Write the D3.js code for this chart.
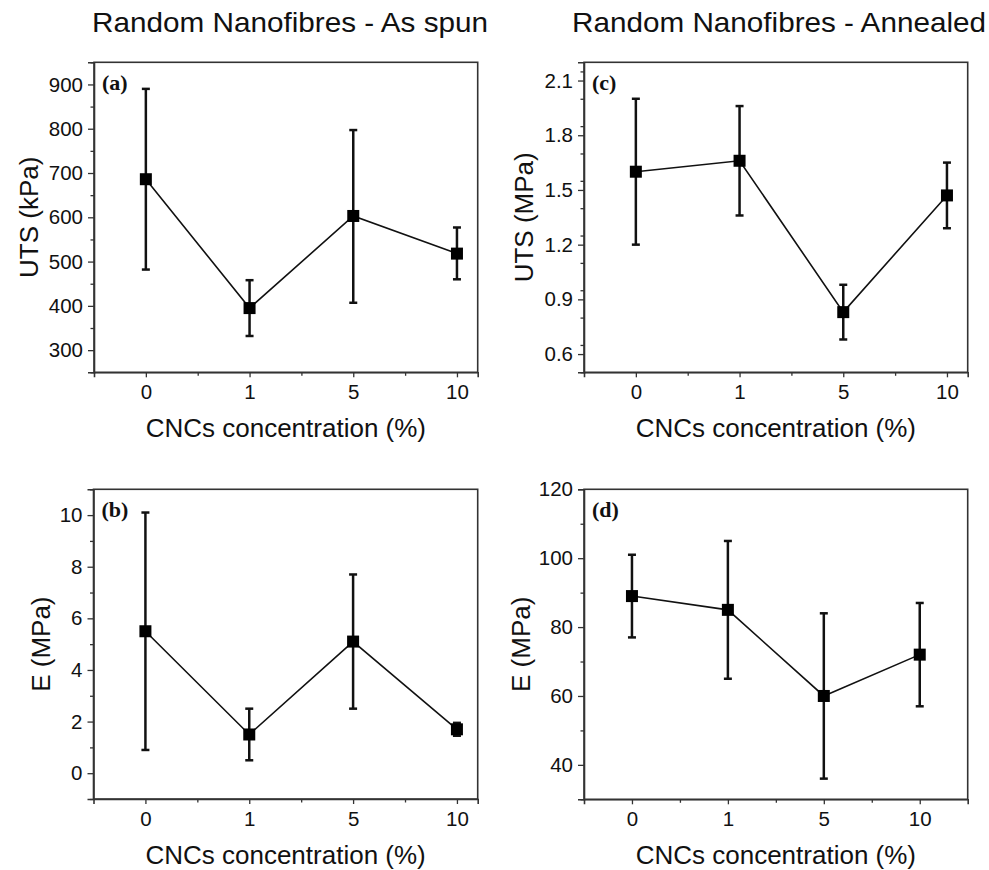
<!DOCTYPE html>
<html lang="en">
<head>
    <meta charset="UTF-8">
    <title>Random Nanofibres - UTS and E</title>
    <script src="https://cdnjs.cloudflare.com/ajax/libs/d3/7.8.5/d3.min.js"></script>
    <style>
        * { margin: 0; padding: 0; }
        body { background: #fff; font-family: "Liberation Sans", Arial, sans-serif; }
        svg text { fill: #111; }
    </style>
</head>
<body>
    <svg id="chart" width="989" height="870"></svg>

    <script>
        // categories on the x axis (CNCs concentration, %)
        const cats = ["0", "1", "5", "10"];

        // (a) as spun, UTS (kPa)
        const utsSpun = [686, 395, 603, 518];
        const utsSpunHi = [890, 458, 797, 577];
        const utsSpunLo = [482, 332, 407, 460];

        // (b) as spun, E (MPa)
        const eSpun = [5.5, 1.5, 5.1, 1.7];
        const eSpunHi = [10.1, 2.5, 7.7, 1.95];
        const eSpunLo = [0.9, 0.5, 2.5, 1.45];

        // (c) annealed, UTS (MPa)
        const utsAnn = [1.60, 1.66, 0.83, 1.47];
        const utsAnnHi = [2.00, 1.96, 0.98, 1.65];
        const utsAnnLo = [1.20, 1.36, 0.68, 1.29];

        // (d) annealed, E (MPa)
        const eAnn = [89, 85, 60, 72];
        const eAnnHi = [101, 105, 84, 87];
        const eAnnLo = [77, 65, 36, 57];

        // y tick labels
        const ticksA = [300, 400, 500, 600, 700, 800, 900];
        const ticksB = [0, 2, 4, 6, 8, 10];
        const ticksC = [0.6, 0.9, 1.2, 1.5, 1.8, 2.1];
        const ticksD = [40, 60, 80, 100, 120];

        const titles = ["Random Nanofibres - As spun", "Random Nanofibres - Annealed"];

        const svg = d3.select("#chart");

        const panels = [
            { tag: "(a)", ylab: "UTS (kPa)", mean: utsSpun, hi: utsSpunHi, lo: utsSpunLo,
              ticks: ticksA, step: 50, yDom: [250, 950], xDom: [-0.5, 3.2], fmt: d => d,
              left: 94, right: 477.7, top: 62.3, bottom: 372.3, ylabX: 38 },
            { tag: "(b)", ylab: "E (MPa)", mean: eSpun, hi: eSpunHi, lo: eSpunLo,
              ticks: ticksB, step: 1, yDom: [-1, 11], xDom: [-0.5, 3.2], fmt: d => d,
              left: 93.5, right: 477.7, top: 489.3, bottom: 799, ylabX: 50 },
            { tag: "(c)", ylab: "UTS (MPa)", mean: utsAnn, hi: utsAnnHi, lo: utsAnnLo,
              ticks: ticksC, step: 0.15, yDom: [0.5, 2.2], xDom: [-0.5, 3.2], fmt: d3.format(".1f"),
              left: 584, right: 967.7, top: 62.3, bottom: 372.3, ylabX: 533 },
            { tag: "(d)", ylab: "E (MPa)", mean: eAnn, hi: eAnnHi, lo: eAnnLo,
              ticks: ticksD, step: 10, yDom: [30, 120], xDom: [-0.5, 3.5], fmt: d => d,
              left: 584, right: 967.7, top: 489.3, bottom: 799.3, ylabX: 530 }
        ];

        panels.forEach(p => {
            const x = d3.scaleLinear().domain(p.xDom).range([p.left, p.right]);
            const y = d3.scaleLinear().domain(p.yDom).range([p.bottom, p.top]);
            const g = svg.append("g");

            // frame (top / right)
            g.append("rect")
                .attr("x", p.left).attr("y", p.top)
                .attr("width", p.right - p.left).attr("height", p.bottom - p.top)
                .attr("fill", "none").attr("stroke", "#333").attr("stroke-width", 1.6);

            // minor y ticks
            const minorY = d3.range(p.yDom[0], p.yDom[1] + 1e-9, p.step)
                .filter(v => !p.ticks.some(t => Math.abs(t - v) < 1e-6));
            g.append("g")
                .attr("transform", `translate(${p.left},0)`)
                .call(d3.axisLeft(y).tickValues(minorY).tickSize(3.5).tickFormat(""))
                .call(a => a.select(".domain").remove())
                .selectAll("line").attr("stroke", "#333").attr("stroke-width", 1.3);

            // major y ticks
            const ya = g.append("g")
                .attr("transform", `translate(${p.left},0)`)
                .call(d3.axisLeft(y).tickValues(p.ticks).tickSize(6).tickPadding(5).tickFormat(p.fmt));
            ya.select(".domain").attr("stroke", "#333").attr("stroke-width", 1.6);
            ya.selectAll("line").attr("stroke", "#333").attr("stroke-width", 1.3);
            ya.selectAll("text").attr("font-size", 20.5).attr("font-family", "Liberation Sans, Arial, sans-serif").attr("fill", "#111");

            // minor x ticks
            g.append("g")
                .attr("transform", `translate(0,${p.bottom})`)
                .call(d3.axisBottom(x).tickValues([0.5, 1.5, 2.5]).tickSize(3.5).tickFormat(""))
                .call(a => a.select(".domain").remove())
                .selectAll("line").attr("stroke", "#333").attr("stroke-width", 1.3);

            // major x ticks
            const xa = g.append("g")
                .attr("transform", `translate(0,${p.bottom})`)
                .call(d3.axisBottom(x).tickValues(d3.range(cats.length)).tickSize(5).tickPadding(7)
                    .tickFormat(i => cats[i]));
            xa.select(".domain").attr("stroke", "#333").attr("stroke-width", 1.6);
            xa.selectAll("line").attr("stroke", "#333").attr("stroke-width", 1.3);
            xa.selectAll("text").attr("font-size", 20.5).attr("font-family", "Liberation Sans, Arial, sans-serif").attr("fill", "#111");

            // axis titles
            g.append("text")
                .attr("x", (p.left + p.right) / 2).attr("y", p.bottom + 65)
                .attr("text-anchor", "middle").attr("font-size", 26)
                .text("CNCs concentration (%)");

            g.append("text")
                .attr("transform", `translate(${p.ylabX},${(p.top + p.bottom) / 2}) rotate(-90)`)
                .attr("text-anchor", "middle").attr("font-size", 26)
                .text(p.ylab);

            // panel tag
            g.append("text")
                .attr("x", p.left + 8).attr("y", p.top + 28)
                .attr("font-family", "Liberation Serif, Times New Roman, serif")
                .attr("font-weight", "bold").attr("font-size", 22)
                .text(p.tag);

            // connecting line
            const line = d3.line().x((d, i) => x(i)).y(d => y(d));
            g.append("path")
                .datum(p.mean)
                .attr("d", line)
                .attr("fill", "none").attr("stroke", "#111").attr("stroke-width", 1.6);

            // error bars
            const eb = g.append("g").selectAll("g")
                .data(p.mean.map((m, i) => ({ i, m, hi: p.hi[i], lo: p.lo[i] })))
                .join("g");
            eb.append("line")
                .attr("x1", d => x(d.i)).attr("x2", d => x(d.i))
                .attr("y1", d => y(d.hi)).attr("y2", d => y(d.lo))
                .attr("stroke", "#111").attr("stroke-width", 2.5);
            eb.append("line")
                .attr("x1", d => x(d.i) - 4).attr("x2", d => x(d.i) + 4)
                .attr("y1", d => y(d.hi)).attr("y2", d => y(d.hi))
                .attr("stroke", "#111").attr("stroke-width", 2.5);
            eb.append("line")
                .attr("x1", d => x(d.i) - 4).attr("x2", d => x(d.i) + 4)
                .attr("y1", d => y(d.lo)).attr("y2", d => y(d.lo))
                .attr("stroke", "#111").attr("stroke-width", 2.5);

            // square markers
            eb.append("rect")
                .attr("x", d => x(d.i) - 6).attr("y", d => y(d.m) - 6)
                .attr("width", 12).attr("height", 12)
                .attr("fill", "#000");
        });

        // column titles (narrow font, squeezed to the original width)
        const titleX = [92, 572];
        titles.forEach((t, k) => {
            svg.append("text")
                .attr("x", titleX[k]).attr("y", 32)
                .attr("font-size", 28)
                .attr("textLength", k === 0 ? 396 : 414)
                .attr("lengthAdjust", "spacingAndGlyphs")
                .text(t);
        });
    </script>
</body>
</html>
